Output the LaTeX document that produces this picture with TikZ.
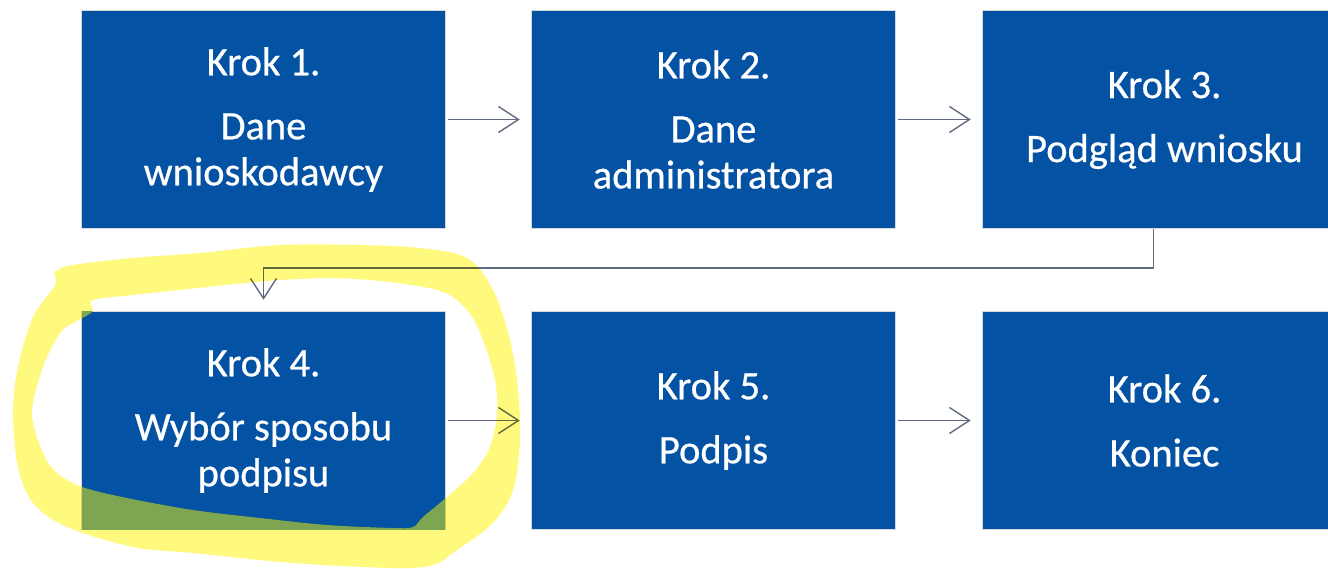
\documentclass[tikz,border=0pt]{standalone}
\usepackage{fontspec}
\setmainfont{Carlito}
\newfontfamily\boxfont[FakeBold=0.6]{Carlito}
\usetikzlibrary{arrows.meta}
\definecolor{boxblue}{RGB}{4,82,164}
\definecolor{boxedge}{RGB}{216,216,216}
\definecolor{linegray}{RGB}{96,108,128}
\definecolor{hlyellow}{RGB}{255,250,125}
\definecolor{hlgreen}{RGB}{126,166,82}
\begin{document}
\begin{tikzpicture}[x=1pt,y=-1pt,
  stepbox/.style={rectangle, fill=boxblue, draw=boxedge, line width=1.5pt,
    minimum width=364pt, minimum height=218pt, inner sep=0pt, text=white,
    align=center, font=\boxfont\fontsize{40.5}{46}\selectfont},
  flow/.style={draw=linegray, line width=1.4pt,
    -{Straight Barb[length=20pt,width=26pt,line width=1.4pt]}}]
\clip (0,0) rectangle (1328,569);
\fill[white] (0,0) rectangle (1328,569);

\node[stepbox] (b1) at (263.5,119.5) {Krok 1.\\[18pt]Dane\\wnioskodawcy};
\node[stepbox] (b2) at (713.5,119.5) {Krok 2.\\[18pt]Dane\\administratora};
\node[stepbox] (b3) at (1164.5,119.5) {Krok 3.\\[18pt]Podgląd wniosku};
\node[stepbox] (b4) at (263.5,420.5) {Krok 4.\\[18pt]Wybór sposobu\\podpisu};
\node[stepbox] (b5) at (713.5,420.5) {Krok 5.\\[18pt]Podpis};
\node[stepbox] (b6) at (1164.5,420.5) {Krok 6.\\[18pt]Koniec};

\draw[flow, shorten <=2pt, shorten >=11pt] (b1.east) -- (b2.west);
\draw[flow, shorten <=2pt, shorten >=11pt] (b2.east) -- (b3.west);
\draw[flow, shorten <=2pt, shorten >=11pt] (b4.east) -- (b5.west);
\draw[flow, shorten <=2pt, shorten >=11pt] (b5.east) -- (b6.west);
\coordinate (bend) at (263.5,268);
\draw[flow, shorten >=11pt] ([xshift=-11pt]b3.south) |- (bend) -- (b4.north);

% highlighter loop
\begin{scope}[blend mode=multiply]
\fill[hlyellow, even odd rule]
  plot[smooth cycle, tension=0.55] coordinates {(55,272) (73,265) (133,258) (200,253) (280,245) (357,245) (420,248) (467,258) (493,290) (510,340) (518,390) (520,440) (513,490) (493,523) (457,550) (433,565) (393,568) (293,563) (193,553) (133,547) (67,527) (33,503) (18,467) (13,413) (18,367) (33,317) (55,285)}
  plot[smooth cycle, tension=0.55] coordinates {(93,310) (93,300) (133,295) (179,290) (280,280) (357,279) (437,290) (467,310) (483,340) (495,380) (497,413) (490,447) (473,473) (447,497) (423,517) (413,527) (393,528) (327,525) (260,518) (193,510) (127,498) (82,487) (57,473) (43,453) (32,413) (43,367) (60,333) (75,322) (88,315)};
\end{scope}
\begin{scope}
\clip (82,312) rectangle (445,529);
\fill[hlgreen, even odd rule]
  plot[smooth cycle, tension=0.55] coordinates {(55,272) (73,265) (133,258) (200,253) (280,245) (357,245) (420,248) (467,258) (493,290) (510,340) (518,390) (520,440) (513,490) (493,523) (457,550) (433,565) (393,568) (293,563) (193,553) (133,547) (67,527) (33,503) (18,467) (13,413) (18,367) (33,317) (55,285)}
  plot[smooth cycle, tension=0.55] coordinates {(93,310) (93,300) (133,295) (179,290) (280,280) (357,279) (437,290) (467,310) (483,340) (495,380) (497,413) (490,447) (473,473) (447,497) (423,517) (413,527) (393,528) (327,525) (260,518) (193,510) (127,498) (82,487) (57,473) (43,453) (32,413) (43,367) (60,333) (75,322) (88,315)};
\end{scope}
\end{tikzpicture}
\end{document}
